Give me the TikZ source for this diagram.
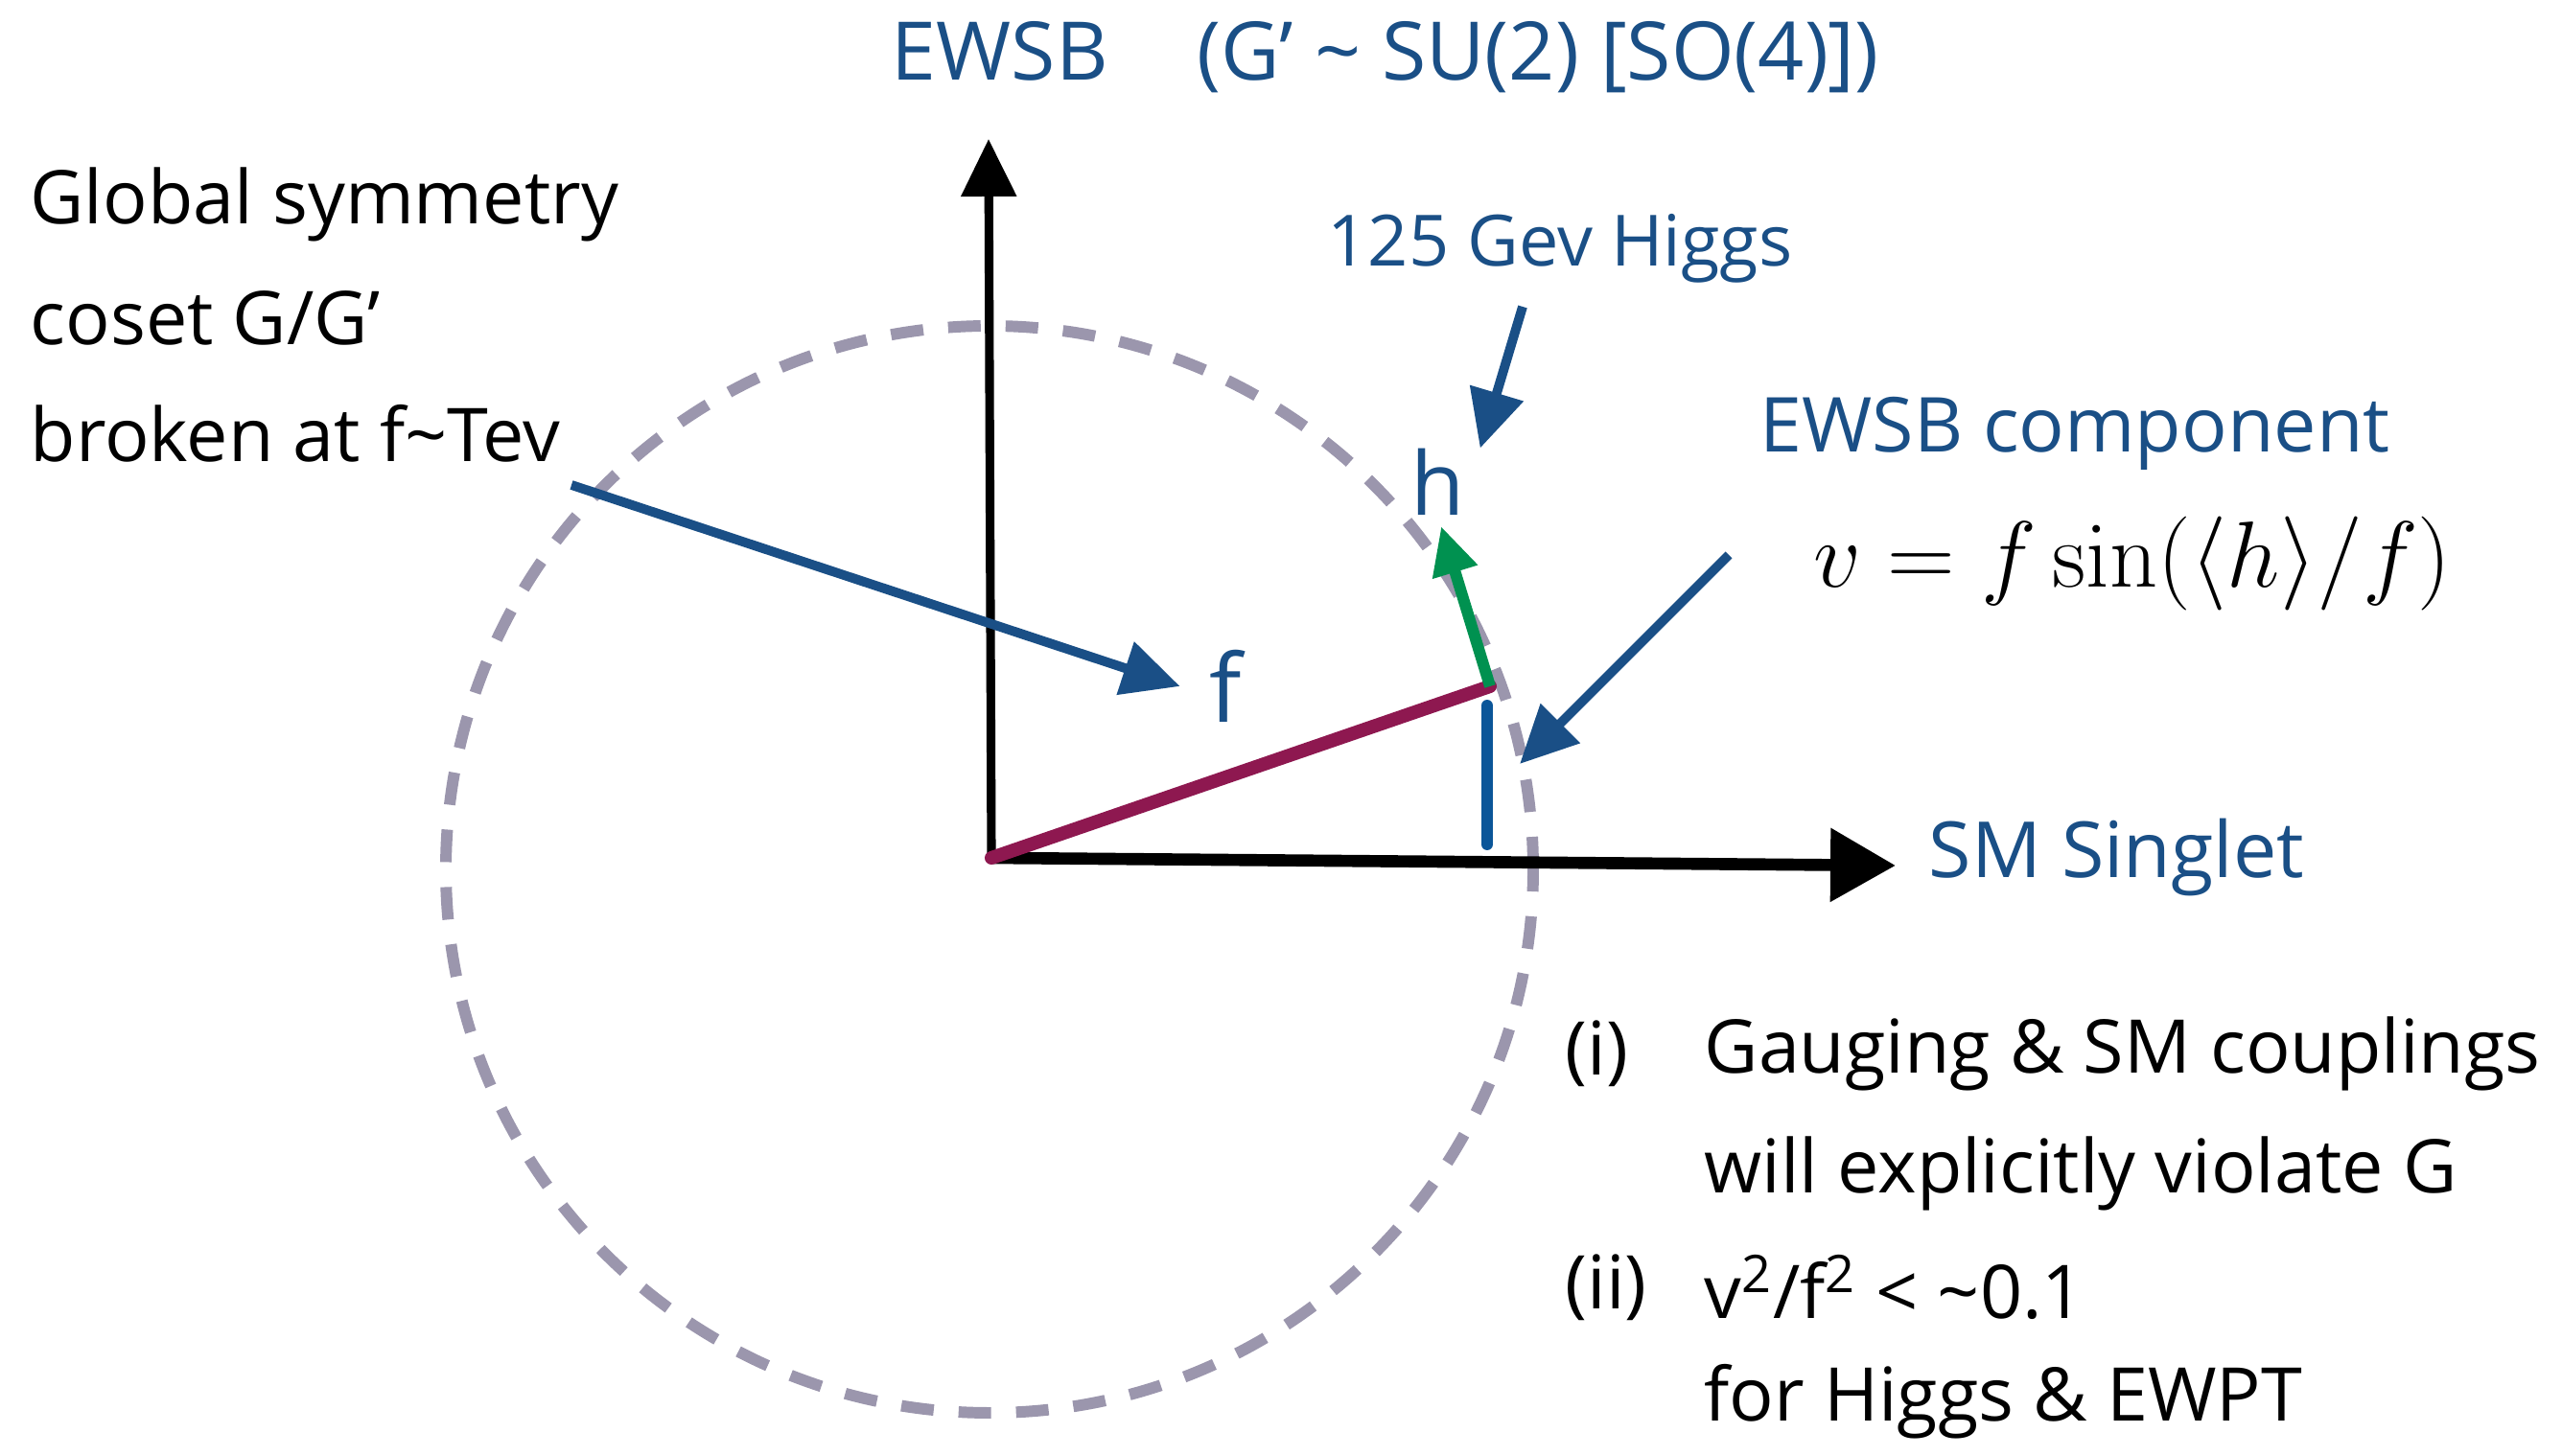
\documentclass[tikz,border=0pt]{standalone}
\usepackage{amsmath}
\usepackage[no-math]{fontspec}
\setmainfont{Open Sans}
\usepackage{tikz}
\usetikzlibrary{arrows.meta}
\definecolor{inkblue}{HTML}{1A4F86}
\definecolor{vblue}{HTML}{0B5699}
\definecolor{plum}{HTML}{8E1850}
\definecolor{leaf}{HTML}{009150}
\definecolor{ring}{HTML}{9B96AD}

\begin{document}
\begin{tikzpicture}[
  font=\fontsize{22}{26}\selectfont,
  txt/.style={anchor=west, inner sep=0pt},
  bluetxt/.style={txt, text=inkblue, font=\fontsize{21}{25}\selectfont},
  axis/.style={line width=2.6pt, -{Triangle[length=6mm, width=5.6mm]}},
  pointer/.style={draw=inkblue, line width=2.8pt, -{Triangle[length=6mm, width=5.6mm]}}
]
\useasboundingbox (0,0) rectangle (26.72,15.19);

% ================= circle of vacua =================
\draw[ring, line width=3.4pt, dash pattern=on 3.4mm off 2.6mm] (10.32,6.12) circle (5.67);

% ================= axes =================
\coordinate (O) at (10.34,6.24);
\coordinate (ytip) at (10.31,13.74);
\coordinate (xtip) at (19.77,6.16);
\draw[axis] (O) -- (ytip);
\draw[axis, line width=3.6pt, -{Triangle[length=6.8mm, width=7.4mm]}] (O) -- (xtip);

\node[bluetxt, font=\fontsize{24}{28}\selectfont] (title) at (9.29,14.59)
  {EWSB\hspace{1.1em}(G' \textasciitilde{} SU(2) [SO(4)])};
\node[bluetxt, font=\fontsize{23}{27}\selectfont] (smsing) at (20.11,6.24) {SM Singlet};

% ================= vacuum vector and components =================
\coordinate (P) at (15.54,8.03);
\coordinate (htip) at (15.03,9.70);
\coordinate (vtop) at (15.51,7.83);
\coordinate (vbot) at (15.51,6.38);
\draw[plum, line width=4pt, line cap=round] (O) -- (P);
\draw[leaf, line width=3.4pt, -{Triangle[length=5mm, width=4.6mm]}] (P) -- (htip);
\draw[vblue, line width=3.4pt, line cap=round] (vtop) -- (vbot);

\node[bluetxt, anchor=center, font=\fontsize{26}{30}\selectfont] (h) at (15.00,10.16) {h};
\node[bluetxt, anchor=center, font=\fontsize{28}{32}\selectfont] (flbl) at (12.78,8.03) {f};

% ================= labels and pointers =================
\node[bluetxt] (higgs) at (13.84,12.60) {125 Gev Higgs};
\node[bluetxt, font=\fontsize{22.5}{27}\selectfont] (ewsbc) at (18.35,10.67) {EWSB component};
\node[txt, font=\Huge] (vform) at (18.91,9.31)
  {\scalebox{1.12}{$v = f\sin(\langle h\rangle/f)$}};

\node[txt] (glob1) at (0.31,13.06) {Global symmetry};
\node[txt] (glob2) at (0.31,11.87) {coset G/G'};
\node[txt] (glob3) at (0.31,10.67) {broken at f\textasciitilde Tev};

\coordinate (ftail) at (5.96,10.13);
\coordinate (htail) at (15.88,11.99);
\coordinate (vtail) at (18.03,9.40);
\coordinate (vmark) at (15.85,7.22);
\draw[pointer] (ftail) -- ([xshift=-3mm]flbl.west);
\draw[pointer] (htail) -- ([xshift=1.5mm]h.north east);
\draw[pointer] (vtail) -- (vmark);

% ================= constraints =================
\node[txt] (itemi)  at (16.32,4.20) {(i)};
\node[txt] (gauge1) at (17.77,4.20) {Gauging \& SM couplings};
\node[txt] (gauge2) at (17.77,2.95) {will explicitly violate G};
\node[txt] (itemii) at (16.32,1.76) {(ii)};
\node[txt] (ratio)  at (17.77,1.76) {v\textsuperscript{2}/f\textsuperscript{2} < \textasciitilde 0.1};
\node[txt] (ewpt)   at (17.77,0.57) {for Higgs \& EWPT};

\end{tikzpicture}
\end{document}
